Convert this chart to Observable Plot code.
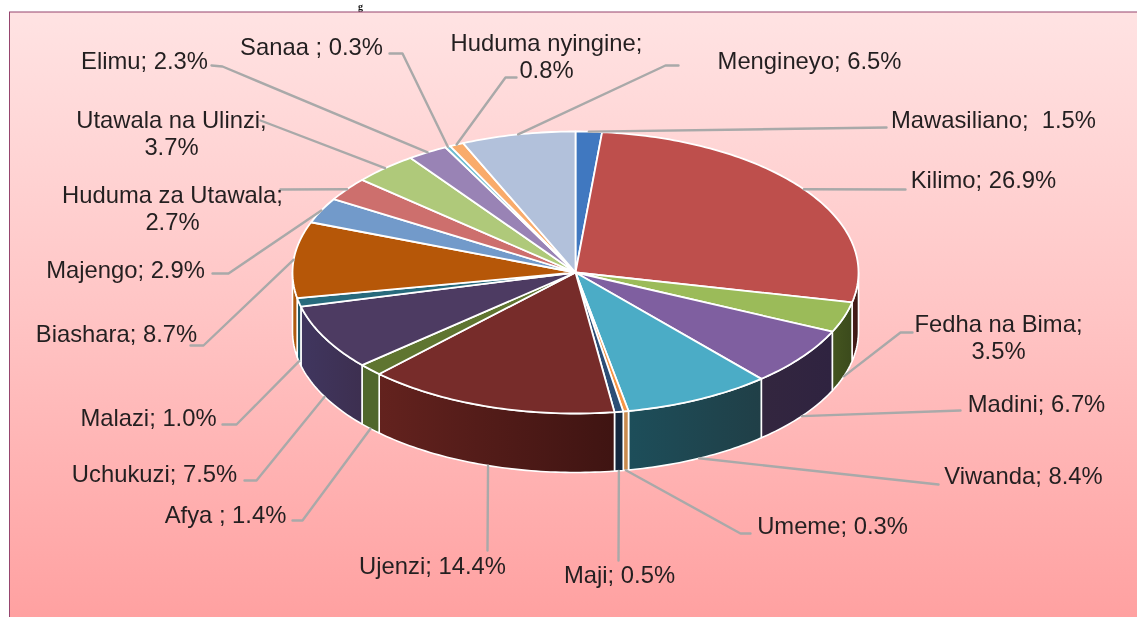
<!DOCTYPE html>
<html><head><meta charset="utf-8">
<script src="https://cdn.jsdelivr.net/npm/d3@7"></script>
<script src="https://cdn.jsdelivr.net/npm/@observablehq/plot@0.6"></script>
<style>html,body{margin:0;padding:0;background:#fff;overflow:hidden}svg{display:block}</style>
</head><body><div id="chart"></div>
<script>
// Data, clockwise from 12 o'clock
const sectors = ["Mawasiliano","Kilimo","Fedha na Bima","Madini","Viwanda","Umeme","Maji","Ujenzi","Afya","Uchukuzi","Malazi","Biashara","Majengo","Huduma za Utawala","Utawala na Ulinzi","Elimu","Sanaa","Huduma nyingine","Mengineyo"];
const shares = [1.5,26.9,3.5,6.7,8.4,0.3,0.5,14.4,1.4,7.5,1.0,8.7,2.9,2.7,3.7,2.3,0.3,0.8,6.5];
const labels = ["Mawasiliano;  1.5%","Kilimo; 26.9%","Fedha na Bima;\n3.5%","Madini; 6.7%","Viwanda; 8.4%","Umeme; 0.3%","Maji; 0.5%","Ujenzi; 14.4%","Afya ; 1.4%","Uchukuzi; 7.5%","Malazi; 1.0%","Biashara; 8.7%","Majengo; 2.9%","Huduma za Utawala;\n2.7%","Utawala na Ulinzi;\n3.7%","Elimu; 2.3%","Sanaa ; 0.3%","Huduma nyingine;\n0.8%","Mengineyo; 6.5%"];
// Styling
const faceColors = ["#4078c0","#be4f4c","#9bbb59","#7f5fa0","#4bacc6","#f79646","#2c4d75","#772c2a","#5f7530","#4d3b62","#276a7c","#b65708","#729aca","#cd6f6d","#afc97a","#9983b5","#6fbdd1","#f9ab6b","#b2c1db"];
const sideLeft  = ["#264a78","#4a1f1c","#44551f","#33263f","#1d4e5a","#c98a4e","#14283f","#63221e","#50672c","#40365f","#1f5a6a","#b05a10","#4a6a90","#804846","#6f8050","#5f5075","#46788a","#b07f50","#78829a"];
const sideRight = ["#264a78","#3a1813","#3b4a1c","#2f2340","#203f47","#c98a4e","#14283f","#3f1412","#50672c","#3d2f50","#1f5a6a","#b05a10","#4a6a90","#804846","#6f8050","#5f5075","#46788a","#b07f50","#78829a"];
// Layout of the annotation: label centre, and the leader's waypoints from the label back to the slice
const labelX = [993,983,998,1036,1023,832,619,432,225,154,148,116,125,172,171,144,311,546,809];
const labelY = [119,179,336,403,475,525,574,565,514,473,417,333,269,207,132,60,46,55,60];
const leaderVia = [[[886,127]],[[905,189]],[[900,332],[912,332]],[[960,410]],[[938,484]],[[740,533],[750,533]],[[618,560]],[[487,550]],[[302,520],[292,520]],[[256,480],[244,480]],[[236,424],[222,424]],[[203,345],[190,345]],[[228,273],[212,273]],[[280,189]],[[260,120]],[[222,66],[211,65]],[[402,53],[389,53]],[[505,77],[516,77]],[[665,65],[678,65]]];

const cx = 575, cy = 272, rx = 283, ry = 141, depth = 59;
const pt = (deg, dy = 0) => { const a = deg * Math.PI / 180; return {x: cx + rx * Math.sin(a), y: cy - ry * Math.cos(a) + dy}; };
const arc = (a0, a1, dy = 0) => { const n = Math.max(2, Math.ceil(Math.abs(a1 - a0))); return d3.range(n + 1).map(i => pt(a0 + (a1 - a0) * i / n, dy)); };

const total = d3.sum(shares);
let acc = 0;
const slices = sectors.map((name, i) => {
  const a0 = acc / total * 360; acc += shares[i]; const a1 = acc / total * 360;
  return {name, i, a0, a1, mid: (a0 + a1) / 2};
});

const sideMarks = slices.filter(s => s.a1 > 90 && s.a0 < 270).map(s => {
  const b0 = Math.max(s.a0, 90), b1 = Math.min(s.a1, 270);
  const poly = [...arc(b0, b1), ...arc(b1, b0, depth)];
  poly.push(poly[0]);
  return Plot.line(poly, {x: "x", y: "y", fill: `url(#side${s.i})`, stroke: "#fff", strokeWidth: 1.6, strokeLinejoin: "round"});
});
const faceMarks = slices.map(s => {
  const poly = [{x: cx, y: cy}, ...arc(s.a0, s.a1), {x: cx, y: cy}];
  return Plot.line(poly, {x: "x", y: "y", fill: faceColors[s.i], stroke: "#fff", strokeWidth: 1.8, strokeLinejoin: "round"});
});
const leaderMarks = slices.map(s => {
  const c = Math.cos(s.mid * Math.PI / 180);
  const start = pt(s.mid, c < 0 ? depth : 0);
  const poly = [start, ...leaderVia[s.i].map(([x, y]) => ({x, y}))];
  return Plot.line(poly, {x: "x", y: "y", stroke: "#a9a9a9", strokeWidth: 2.4, strokeLinejoin: "round"});
});
const labelRows = labels.map((text, i) => ({text, x: labelX[i], y: labelY[i]}));

function defs() {
  const ns = "http://www.w3.org/2000/svg";
  const d = document.createElementNS(ns, "defs");
  const grad = (id, stops, horizontal) => {
    const g = document.createElementNS(ns, "linearGradient");
    g.setAttribute("id", id);
    g.setAttribute("x1", 0); g.setAttribute("y1", 0);
    g.setAttribute("x2", horizontal ? 1 : 0); g.setAttribute("y2", horizontal ? 0 : 1);
    stops.forEach((c, k) => {
      const st = document.createElementNS(ns, "stop");
      st.setAttribute("offset", k / (stops.length - 1));
      st.setAttribute("stop-color", c);
      g.appendChild(st);
    });
    d.appendChild(g);
  };
  grad("bg", ["#ffe3e3", "#ffc4c4", "#ffa0a0"], false);
  sectors.forEach((_, i) => grad(`side${i}`, [sideLeft[i], sideRight[i]], true));
  return d;
}

const chart = Plot.plot({
  width: 1137, height: 617, margin: 0,
  style: {background: "#fff", overflow: "hidden", filter: "blur(0.4px)"},
  x: {domain: [0, 1137], range: [0, 1137], axis: null},
  y: {domain: [0, 617], range: [0, 617], axis: null},
  marks: [
    defs,
    Plot.text(["g"], {x: 360, y: 6, fontFamily: "Liberation Serif", fontWeight: "bold", fontSize: 10, fill: "#111"}),
    Plot.rect([0], {x1: 9.5, x2: 1145, y1: 12, y2: 625, fill: "url(#bg)", stroke: "#96456e", strokeWidth: 1}),
    ...sideMarks,
    ...faceMarks,
    ...leaderMarks,
    Plot.text(labelRows, {x: "x", y: "y", text: "text", fontFamily: "Liberation Sans", fontSize: 23.8, lineHeight: 1.17, fill: "#231f20", textAnchor: "middle"})
  ]
});
document.getElementById("chart").appendChild(chart);
</script></body></html>
